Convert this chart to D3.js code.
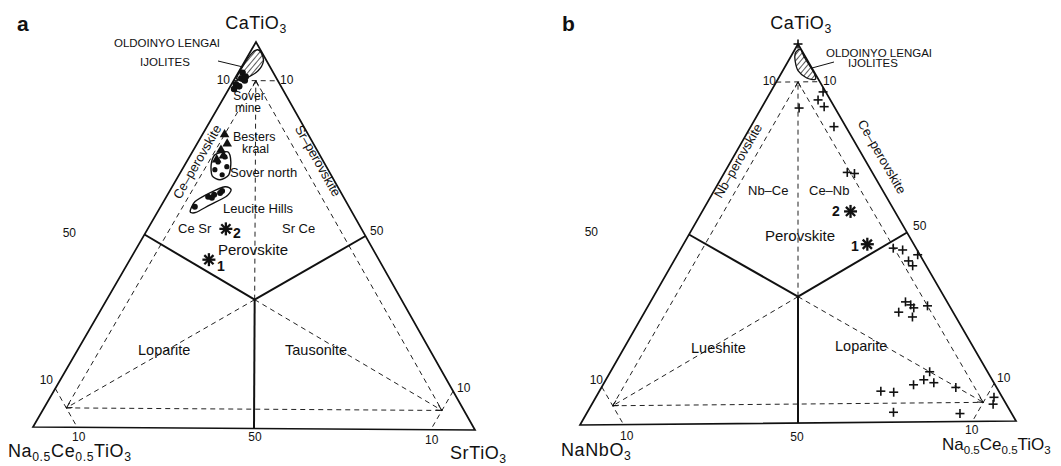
<!DOCTYPE html>
<html><head><meta charset="utf-8">
<script src="https://cdn.jsdelivr.net/npm/d3@7"></script>
<style>
body{margin:0;background:#fff;}
svg{display:block;font-family:"Liberation Sans",Arial,Helvetica,sans-serif;}
</style></head><body>
<svg id="c" width="1061" height="466"></svg>
<script>
// ---------- DATA (ternary compositions, mol %: [top component, right component]) ----------
// Panel a: CaTiO3 (top) – Na0.5Ce0.5TiO3 (left) – SrTiO3 (right)
const aSoverMine      = [[92,1],[90.5,1.5],[89,1],[90,2.5],[88.5,2],[91,2.2],[87.8,1.2]];
const aBestersKraal   = [[76,5],[73.6,6.8],[72,6.2],[70.5,7.5],[69.5,6.5]];
const aSoverNorth     = [[68.9,7.1],[70.2,8.0],[66.9,7.4],[65.6,9.7],[67.7,9.7]];
const aSoverNorthField= [[70.8,5.5],[71.5,8.0],[68.9,10.0],[65.6,11.2],[64.3,9.9],[65.3,7.6],[68.2,5.9]];
const aLeucite        = [[57.3,7.7],[59.9,9.4],[60.4,10.5],[60.9,11.6],[59.6,10.4],[61.4,11.8]];
const aLeuciteField   = [[56.0,7.3],[58.6,7.1],[60.9,9.3],[62.5,11.9],[61.7,13.7],[59.9,13.4],[57.8,10.9],[55.8,8.7]];
const aOldoinyoField  = [[90.5,0.4],[94,0.2],[97,0.5],[98,1.3],[97.2,2.6],[95,4.2],[92.5,4.2],[90.5,2.4]];
const aStars          = [{id:"1", v:[43.6,17.8]},{id:"2", v:[51.6,17.6]}];
// Panel b: CaTiO3 (top) – NaNbO3 (left) – Na0.5Ce0.5TiO3 (right)
const bPlus = [[100,0],[87.3,12.1],[85.2,12.0],[83.4,14.3],[83.1,8.7],[78.1,19.2],[66,28.3],[65.7,30.1],
  [45.9,48.9],[45.4,51.3],[44.1,55.4],[42.5,54.1],[41.2,55.7],
  [31.7,58.8],[30.9,60.4],[30.1,61.5],[30.6,64.4],[29.0,58.6],[27.7,62.4],
  [13.2,73.6],[11.1,73.3],[9.8,71.6],[10.3,76.0],[9.0,81.7],[8.2,64.9],[7.9,68.0],
  [6.3,91.8],[4.5,92.5],[2.6,70.6],[2.1,86.1]];
const bOldoinyoField = [[98.5,0.8],[97.5,0.6],[95.5,1.6],[93,3.5],[91,6.5],[90.6,8.6],[91.8,8.0],[94,5.8],[96.5,3.2],[98.5,1.4]];
const bStars = [{id:"1", v:[47.0,42.4]},{id:"2", v:[55.7,34.2]}];
// Axis tick labels
const cornerTick = "10";
const midTick = "50";

// ---------- LAYOUT ----------
const svg = d3.select("#c");
const defs = svg.append("defs");
defs.append("pattern").attr("id","hatch").attr("patternUnits","userSpaceOnUse")
  .attr("width",4).attr("height",4).attr("patternTransform","rotate(40)")
  .append("line").attr("x1",0).attr("y1",0).attr("x2",0).attr("y2",4)
  .attr("stroke","#111").attr("stroke-width",1.4);
defs.append("marker").attr("id","arr").attr("viewBox","0 0 10 10").attr("refX",9).attr("refY",5)
  .attr("markerWidth",7).attr("markerHeight",7).attr("orient","auto").attr("markerUnits","userSpaceOnUse")
  .append("path").attr("d","M1,1 L9,5 L1,9").attr("fill","none").attr("stroke","#111").attr("stroke-width",1.4);

function makeProj(A,L,R){
  const w = d3.scaleLinear().domain([0,100]).range([0,1]);
  return d => { const a=w(d[0]), c=w(d[1]), b=1-a-c;
    return [a*A[0]+b*L[0]+c*R[0], a*A[1]+b*L[1]+c*R[1]]; };
}

function drawFrame(g, P){
  const ln = d3.line().x(d=>P(d)[0]).y(d=>P(d)[1]);
  const C = [100/3,100/3];
  const dashed = [[[90,0],[90,10]],[[10,0],[0,10]],[[10,90],[0,90]],
                  [[90,5],[5,5]],[[90,5],[5,90]],[[5,5],[5,90]]];
  dashed.forEach(s=>g.append("path").attr("d",ln(s)).attr("fill","none")
    .attr("stroke","#222").attr("stroke-width",1).attr("stroke-dasharray","5,4"));
  [[C,[90,5]],[C,[5,5]],[C,[5,90]]].forEach(s=>g.append("path").attr("d",ln(s)).attr("fill","none")
    .attr("stroke","#222").attr("stroke-width",1).attr("stroke-dasharray","5,4").attr("marker-end","url(#arr)"));
  [[C,[50,0]],[C,[50,50]],[C,[0,50]]].forEach(s=>g.append("path").attr("d",ln(s)).attr("fill","none")
    .attr("stroke","#111").attr("stroke-width",2));
  g.append("path").attr("d",ln([[100,0],[0,0],[0,100]])+"Z").attr("fill","none")
    .attr("stroke","#111").attr("stroke-width",1.7).attr("stroke-linejoin","miter");
}

function txt(g,x,y,s,size,opt={}){
  const t=g.append("text").attr("x",x).attr("y",y).attr("font-size",size).attr("fill","#111")
    .attr("text-anchor",opt.anchor||"start").text(s);
  if(opt.bold) t.attr("font-weight","bold");
  if(opt.rot!==undefined) t.attr("transform",`rotate(${opt.rot},${x},${y})`);
  if(opt.ls) t.attr("letter-spacing",opt.ls);
  return t;
}
function formula(g,x,y,parts,size,anchor,ls){
  const t=g.append("text").attr("x",x).attr("y",y).attr("font-size",size).attr("fill","#111")
    .attr("text-anchor",anchor||"start").attr("letter-spacing",ls===undefined?0.6:ls);
  let sub=false;
  parts.forEach(([s,isSub])=>{
    const ts=t.append("tspan").text(s);
    if(isSub&&!sub){ts.attr("dy",4).attr("font-size",size*0.68);sub=true;}
    else if(isSub){ts.attr("font-size",size*0.68);}
    else if(!isSub&&sub){ts.attr("dy",-4);sub=false;}
  });
}
function star(g,p){
  const r=6.5;
  [0,45,90,135].forEach(a=>{const rad=a*Math.PI/180;
    g.append("line").attr("x1",p[0]-r*Math.cos(rad)).attr("y1",p[1]-r*Math.sin(rad))
     .attr("x2",p[0]+r*Math.cos(rad)).attr("y2",p[1]+r*Math.sin(rad))
     .attr("stroke","#111").attr("stroke-width",2.3);});
}
function edgeAngle(P1,P2){return Math.atan2(P2[1]-P1[1],P2[0]-P1[0])*180/Math.PI;}

// ---------- PANEL A ----------
{
  const A=[256,42], L=[33,427], R=[475,430];
  const P = makeProj(A,L,R);
  const g = svg.append("g");
  drawFrame(g,P);
  const closed = d3.line().x(d=>P(d)[0]).y(d=>P(d)[1]).curve(d3.curveCardinalClosed.tension(0.2));
  g.append("path").attr("d",closed(aOldoinyoField)).attr("fill","url(#hatch)").attr("stroke","#111").attr("stroke-width",1.3);
  g.append("path").attr("d",closed(aSoverNorthField)).attr("fill","none").attr("stroke","#111").attr("stroke-width",1.4);
  g.append("path").attr("d",closed(aLeuciteField)).attr("fill","none").attr("stroke","#111").attr("stroke-width",1.4);
  g.selectAll(".sm").data(aSoverMine).join("circle").attr("cx",d=>P(d)[0]).attr("cy",d=>P(d)[1]).attr("r",3.3).attr("fill","#111");
  g.selectAll(".sn").data(aSoverNorth).join("circle").attr("cx",d=>P(d)[0]).attr("cy",d=>P(d)[1]).attr("r",2.6).attr("fill","#111");
  g.selectAll(".lh").data(aLeucite).join("circle").attr("cx",d=>P(d)[0]).attr("cy",d=>P(d)[1]).attr("r",3).attr("fill","#111");
  const tri=d3.symbol().type(d3.symbolTriangle).size(40);
  g.selectAll(".bk").data(aBestersKraal).join("path").attr("d",tri)
    .attr("transform",d=>`translate(${P(d)[0]},${P(d)[1]})`).attr("fill","#111");
  aStars.forEach(s=>star(g,P(s.v)));
  // labels
  txt(g,17,31,"a",21,{bold:true});
  formula(g,256,29,[["CaTiO",0],["3",1]],18,"middle");
  formula(g,8,457,[["Na",0],["0.5",1],["Ce",0],["0.5",1],["TiO",0],["3",1]],18);
  formula(g,450,459,[["SrTiO",0],["3",1]],18);
  txt(g,167,47,"OLDOINYO LENGAI",11.5,{anchor:"middle"});
  txt(g,165,66,"IJOLITES",11.5,{anchor:"middle"});
  g.append("line").attr("x1",218).attr("y1",61).attr("x2",243).attr("y2",67).attr("stroke","#111").attr("stroke-width",1);
  txt(g,249,100,"Sover",12,{anchor:"middle"});
  txt(g,248,112,"mine",12,{anchor:"middle"});
  txt(g,233,141,"Besters",12.5);
  txt(g,242,153,"kraal",12.5);
  txt(g,230,177,"Sover north",13);
  txt(g,223,213,"Leucite Hills",13);
  txt(g,178,233,"Ce Sr",13);
  txt(g,282,233,"Sr Ce",13);
  txt(g,233,238,"2",14,{bold:true});
  txt(g,218,255,"Perovskite",15);
  txt(g,217,271,"1",14,{bold:true});
  txt(g,138,355,"Loparite",14.5);
  txt(g,285,355,"Tausonite",14.5);
  txt(g,201,164,"Ce–perovskite",13,{anchor:"middle",rot:edgeAngle(L,A)});
  txt(g,314,163,"Sr–perovskite",13,{anchor:"middle",rot:edgeAngle(A,R)});
  // tick labels
  txt(g,230,84,cornerTick,12,{anchor:"end"});
  txt(g,280,84,cornerTick,12);
  txt(g,53,384,cornerTick,12,{anchor:"end"});
  txt(g,72,441,cornerTick,12);
  txt(g,457,392,cornerTick,12);
  txt(g,425,444,cornerTick,12);
  txt(g,255,441,midTick,12,{anchor:"middle"});
  txt(g,76,237,midTick,12,{anchor:"end"});
  txt(g,370,235,midTick,12);
}

// ---------- PANEL B ----------
{
  const A=[798,44], L=[580,425], R=[1016,421];
  const P = makeProj(A,L,R);
  const g = svg.append("g");
  drawFrame(g,P);
  const closed = d3.line().x(d=>P(d)[0]).y(d=>P(d)[1]).curve(d3.curveCardinalClosed.tension(0.2));
  g.append("path").attr("d",closed(bOldoinyoField)).attr("fill","url(#hatch)").attr("stroke","#111").attr("stroke-width",1.3);
  const plusG = g.selectAll(".pl").data(bPlus).join("g").attr("transform",d=>`translate(${P(d)[0]},${P(d)[1]})`);
  plusG.append("line").attr("x1",-4.5).attr("x2",4.5).attr("y1",0).attr("y2",0).attr("stroke","#111").attr("stroke-width",1.6);
  plusG.append("line").attr("x1",0).attr("x2",0).attr("y1",-4.5).attr("y2",4.5).attr("stroke","#111").attr("stroke-width",1.6);
  bStars.forEach(s=>star(g,P(s.v)));
  txt(g,562,31,"b",21,{bold:true});
  formula(g,801,29,[["CaTiO",0],["3",1]],18,"middle");
  formula(g,561,456,[["NaNbO",0],["3",1]],18);
  formula(g,942,450,[["Na",0],["0.5",1],["Ce",0],["0.5",1],["TiO",0],["3",1]],17,"start",0);
  txt(g,879,57,"OLDOINYO LENGAI",11.5,{anchor:"middle"});
  txt(g,873,67,"IJOLITES",11.5,{anchor:"middle"});
  g.append("line").attr("x1",812).attr("y1",68).attr("x2",834).attr("y2",62).attr("stroke","#111").attr("stroke-width",1);
  txt(g,748,195,"Nb–Ce",13);
  txt(g,809,195,"Ce–Nb",13);
  txt(g,832,216,"2",14,{bold:true});
  txt(g,765,241,"Perovskite",15);
  txt(g,851,251,"1",14,{bold:true});
  txt(g,691,353,"Lueshite",14.5);
  txt(g,835,351,"Loparite",14.5);
  txt(g,742,163,"Nb–perovskite",13,{anchor:"middle",rot:edgeAngle(L,A)});
  txt(g,878,159,"Ce–perovskite",13,{anchor:"middle",rot:edgeAngle(A,R)});
  txt(g,776,85,cornerTick,12,{anchor:"end"});
  txt(g,823,85,cornerTick,12);
  txt(g,603,384,cornerTick,12,{anchor:"end"});
  txt(g,620,440,cornerTick,12);
  txt(g,797,441,midTick,12,{anchor:"middle"});
  txt(g,965,434,cornerTick,12);
  txt(g,997,382,cornerTick,12);
  txt(g,598,236,midTick,12,{anchor:"end"});
  txt(g,913,230,midTick,12);
}
</script>
</body></html>
